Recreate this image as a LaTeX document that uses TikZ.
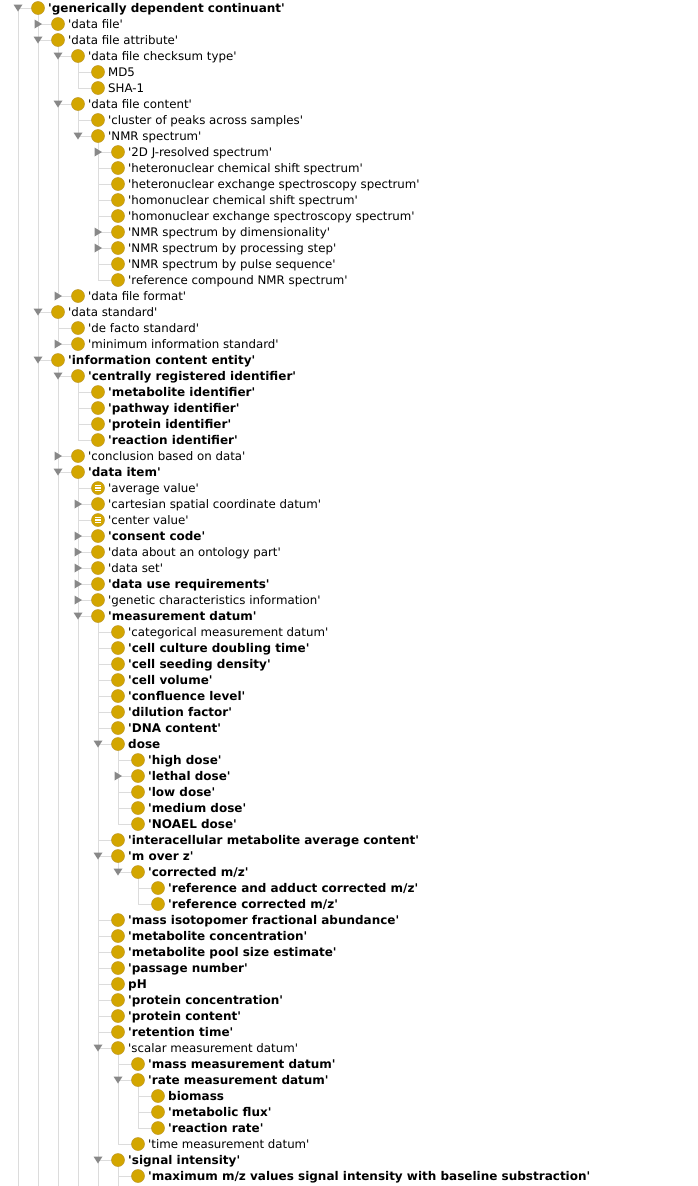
\documentclass[tikz,border=0pt]{standalone}
\usepackage{fontspec}
\setmainfont{DejaVu Sans}[Ligatures=TeXOff]
\pgfdeclarelayer{bg}
\pgfsetlayers{bg,main}
\definecolor{clsfill}{RGB}{211,166,0}
\definecolor{clsedge}{RGB}{190,152,40}
\definecolor{treegray}{RGB}{220,220,220}
\definecolor{trigray}{RGB}{136,136,136}
\newcommand\trow[4]{% index, level, label style, text
  \node[cls] (r#1) at ({38+20*#2},{-8-16*#1}) {};
  \node[lbl,#3] (r#1t) at ([xshift=10pt,yshift=-4.5pt]r#1.center) {#4};}
\begin{document}
\begin{tikzpicture}[x=1pt,y=1pt,
  cls/.style={circle,fill=clsfill,draw=clsedge,line width=0.5pt,minimum size=13pt,inner sep=0pt},
  lbl/.style={anchor=base west,inner sep=0pt,font=\fontsize{11.8}{14}\selectfont},
  bd/.style={font=\fontsize{12}{14}\selectfont\bfseries},
  tree/.style={draw=treegray,line width=1pt},
  tri/.style={fill=trigray}]
\useasboundingbox (0,0) rectangle (698,-1186);
\coordinate (bot) at (0,-1186);
\coordinate (top) at (18,-8);

% class rows
\trow{0}{0}{bd}{'generically dependent continuant'}
\trow{1}{1}{}{'data file'}
\trow{2}{1}{}{'data file attribute'}
\trow{3}{2}{}{'data file checksum type'}
\trow{4}{3}{}{MD5}
\trow{5}{3}{}{SHA-1}
\trow{6}{2}{}{'data file content'}
\trow{7}{3}{}{'cluster of peaks across samples'}
\trow{8}{3}{}{'NMR spectrum'}
\trow{9}{4}{}{'2D J-resolved spectrum'}
\trow{10}{4}{}{'heteronuclear chemical shift spectrum'}
\trow{11}{4}{}{'heteronuclear exchange spectroscopy spectrum'}
\trow{12}{4}{}{'homonuclear chemical shift spectrum'}
\trow{13}{4}{}{'homonuclear exchange spectroscopy spectrum'}
\trow{14}{4}{}{'NMR spectrum by dimensionality'}
\trow{15}{4}{}{'NMR spectrum by processing step'}
\trow{16}{4}{}{'NMR spectrum by pulse sequence'}
\trow{17}{4}{}{'reference compound NMR spectrum'}
\trow{18}{2}{}{'data file format'}
\trow{19}{1}{}{'data standard'}
\trow{20}{2}{}{'de facto standard'}
\trow{21}{2}{}{'minimum information standard'}
\trow{22}{1}{bd}{'information content entity'}
\trow{23}{2}{bd}{'centrally registered identifier'}
\trow{24}{3}{bd}{'metabolite identifier'}
\trow{25}{3}{bd}{'pathway identifier'}
\trow{26}{3}{bd}{'protein identifier'}
\trow{27}{3}{bd}{'reaction identifier'}
\trow{28}{2}{}{'conclusion based on data'}
\trow{29}{2}{bd}{'data item'}
\trow{30}{3}{}{'average value'}
\trow{31}{3}{}{'cartesian spatial coordinate datum'}
\trow{32}{3}{}{'center value'}
\trow{33}{3}{bd}{'consent code'}
\trow{34}{3}{}{'data about an ontology part'}
\trow{35}{3}{}{'data set'}
\trow{36}{3}{bd}{'data use requirements'}
\trow{37}{3}{}{'genetic characteristics information'}
\trow{38}{3}{bd}{'measurement datum'}
\trow{39}{4}{}{'categorical measurement datum'}
\trow{40}{4}{bd}{'cell culture doubling time'}
\trow{41}{4}{bd}{'cell seeding density'}
\trow{42}{4}{bd}{'cell volume'}
\trow{43}{4}{bd}{'confluence level'}
\trow{44}{4}{bd}{'dilution factor'}
\trow{45}{4}{bd}{'DNA content'}
\trow{46}{4}{bd}{dose}
\trow{47}{5}{bd}{'high dose'}
\trow{48}{5}{bd}{'lethal dose'}
\trow{49}{5}{bd}{'low dose'}
\trow{50}{5}{bd}{'medium dose'}
\trow{51}{5}{bd}{'NOAEL dose'}
\trow{52}{4}{bd}{'interacellular metabolite average content'}
\trow{53}{4}{bd}{'m over z'}
\trow{54}{5}{bd}{'corrected m/z'}
\trow{55}{6}{bd}{'reference and adduct corrected m/z'}
\trow{56}{6}{bd}{'reference corrected m/z'}
\trow{57}{4}{bd}{'mass isotopomer fractional abundance'}
\trow{58}{4}{bd}{'metabolite concentration'}
\trow{59}{4}{bd}{'metabolite pool size estimate'}
\trow{60}{4}{bd}{'passage number'}
\trow{61}{4}{bd}{pH}
\trow{62}{4}{bd}{'protein concentration'}
\trow{63}{4}{bd}{'protein content'}
\trow{64}{4}{bd}{'retention time'}
\trow{65}{4}{}{'scalar measurement datum'}
\trow{66}{5}{bd}{'mass measurement datum'}
\trow{67}{5}{bd}{'rate measurement datum'}
\trow{68}{6}{bd}{biomass}
\trow{69}{6}{bd}{'metabolic flux'}
\trow{70}{6}{bd}{'reaction rate'}
\trow{71}{5}{}{'time measurement datum'}
\trow{72}{4}{bd}{'signal intensity'}
\trow{73}{5}{bd}{'maximum m/z values signal intensity with baseline substraction'}

% equivalent-class marks
\foreach \n in {r30,r32}
  \foreach \dy in {-2.4,0,2.4}
    \draw[white,line width=1.1pt] ([xshift=-2.8pt,yshift=\dy pt]\n.center) -- ([xshift=2.8pt,yshift=\dy pt]\n.center);

% page and tree lines, behind the rows
\begin{pgfonlayer}{bg}
  \fill[white] (0,0) rectangle (698,-1186);
  \draw[tree] (top) -- (r0.center);
  \draw[tree] (top) -- (top |- bot);
  \foreach \p/\c in {r0/r1,r0/r2,r0/r19,r0/r22,
      r2/r3,r2/r6,r2/r18, r3/r4,r3/r5, r6/r7,r6/r8,
      r8/r9,r8/r10,r8/r11,r8/r12,r8/r13,r8/r14,r8/r15,r8/r16,r8/r17,
      r19/r20,r19/r21, r22/r23,r22/r28,r22/r29,
      r23/r24,r23/r25,r23/r26,r23/r27,
      r29/r30,r29/r31,r29/r32,r29/r33,r29/r34,r29/r35,r29/r36,r29/r37,r29/r38,
      r38/r39,r38/r40,r38/r41,r38/r42,r38/r43,r38/r44,r38/r45,r38/r46,
      r38/r52,r38/r53,r38/r57,r38/r58,r38/r59,r38/r60,r38/r61,r38/r62,
      r38/r63,r38/r64,r38/r65,r38/r72,
      r46/r47,r46/r48,r46/r49,r46/r50,r46/r51,
      r53/r54, r54/r55,r54/r56,
      r65/r66,r65/r67,r65/r71, r67/r68,r67/r69,r67/r70, r72/r73}
    \draw[tree] (\p.center) |- (\c.center);
  \foreach \n in {r0,r22,r29,r38,r72}
    \draw[tree] (\n.center) -- (\n |- bot);
\end{pgfonlayer}

% expand / collapse handles
\foreach \n in {r0,r2,r3,r6,r8,r19,r22,r23,r29,r38,r46,r53,r54,r65,r67,r72}
  \fill[tri] ([xshift=-24.5pt,yshift=3.5pt]\n.center) -- ([xshift=-15.5pt,yshift=3.5pt]\n.center)
     -- ([xshift=-20pt,yshift=-3.5pt]\n.center) -- cycle;
\foreach \n in {r1,r9,r14,r15,r18,r21,r28,r31,r33,r34,r35,r36,r37,r48}
  \fill[tri] ([xshift=-23.5pt,yshift=4.5pt]\n.center) -- ([xshift=-23.5pt,yshift=-4.5pt]\n.center)
     -- ([xshift=-16pt,yshift=0pt]\n.center) -- cycle;
\end{tikzpicture}
\end{document}
